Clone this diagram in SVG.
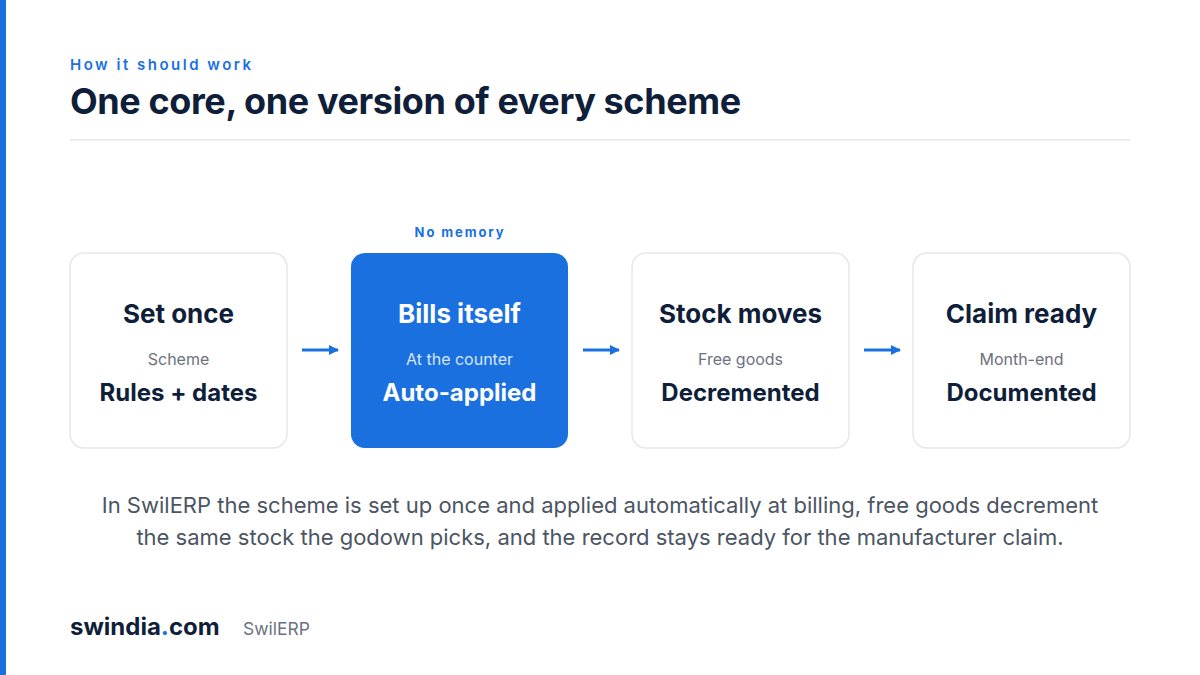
<svg xmlns="http://www.w3.org/2000/svg" width="1200" height="675" viewBox="0 0 1200 675">
<defs>
<style>
text{font-family:Inter,"Noto Sans","Liberation Sans",sans-serif}
.box{fill:#ffffff;stroke:#e5e7eb;stroke-width:1.5}
.boxa{fill:#1a70df}
.t{font-size:26px;font-weight:700;fill:#0f1f3a;text-anchor:middle}
.v{font-size:24px;font-weight:700;fill:#0f1f3a;text-anchor:middle}
.s{font-size:16px;fill:#6b7280;text-anchor:middle}
.ta{font-size:26px;font-weight:700;fill:#ffffff;text-anchor:middle}
.va{font-size:24px;font-weight:700;fill:#ffffff;text-anchor:middle}
.sa{font-size:16px;fill:#d6e6fb;text-anchor:middle}
.arr{stroke:#1a70df;stroke-width:3;fill:none}
</style>
<marker id="ah" viewBox="0 0 10 10" refX="9" refY="5" markerWidth="10" markerHeight="10" markerUnits="userSpaceOnUse" orient="auto"><path d="M0,0 L10,5 L0,10 z" fill="#1a70df"/></marker>
</defs>
<rect width="1200" height="675" fill="#ffffff"/>
<rect x="0" y="0" width="6" height="675" fill="#1a70df"/>
<text x="70" y="70" font-size="15" font-weight="600" fill="#1a70df" letter-spacing="2.5">How it should work</text>
<text x="70" y="114" font-size="36" font-weight="700" fill="#0f1f3a" letter-spacing="-0.4">One core, one version of every scheme</text>
<rect x="70" y="139" width="1060" height="1.5" fill="#e5e7eb"/>
<text x="460" y="237" font-size="13" font-weight="700" fill="#1a70df" text-anchor="middle" letter-spacing="1.9">No memory</text>
<g id="connectors">
<line class="arr" x1="302" y1="350" x2="338" y2="350" marker-end="url(#ah)"/>
<line class="arr" x1="583" y1="350" x2="619" y2="350" marker-end="url(#ah)"/>
<line class="arr" x1="864" y1="350" x2="900" y2="350" marker-end="url(#ah)"/>
</g>
<g id="n1">
<rect class="box" x="70" y="253" width="217" height="195" rx="14"/>
<text class="t" x="178.5" y="323">Set once</text>
<text class="s" x="178.5" y="365">Scheme</text>
<text class="v" x="178.5" y="401">Rules + dates</text>
</g>
<g id="n2">
<rect class="boxa" x="351" y="253" width="217" height="195" rx="14"/>
<text class="ta" x="459.5" y="323">Bills itself</text>
<text class="sa" x="459.5" y="365">At the counter</text>
<text class="va" x="459.5" y="401">Auto-applied</text>
</g>
<g id="n3">
<rect class="box" x="632" y="253" width="217" height="195" rx="14"/>
<text class="t" x="740.5" y="323">Stock moves</text>
<text class="s" x="740.5" y="365">Free goods</text>
<text class="v" x="740.5" y="401">Decremented</text>
</g>
<g id="n4">
<rect class="box" x="913" y="253" width="217" height="195" rx="14"/>
<text class="t" x="1021.5" y="323">Claim ready</text>
<text class="s" x="1021.5" y="365">Month-end</text>
<text class="v" x="1021.5" y="401">Documented</text>
</g>
<text x="600" y="513" font-size="22" fill="#4b5563" text-anchor="middle">In SwilERP the scheme is set up once and applied automatically at billing, free goods decrement</text>
<text x="600" y="545" font-size="22" fill="#4b5563" text-anchor="middle">the same stock the godown picks, and the record stays ready for the manufacturer claim.</text>
<text x="70" y="635" font-size="24" font-weight="700" fill="#0f1f3a">swindia<tspan fill="#1a70df">.</tspan>com</text>
<text x="243" y="635" font-size="17.5" fill="#6b7280">SwilERP</text>
</svg>
